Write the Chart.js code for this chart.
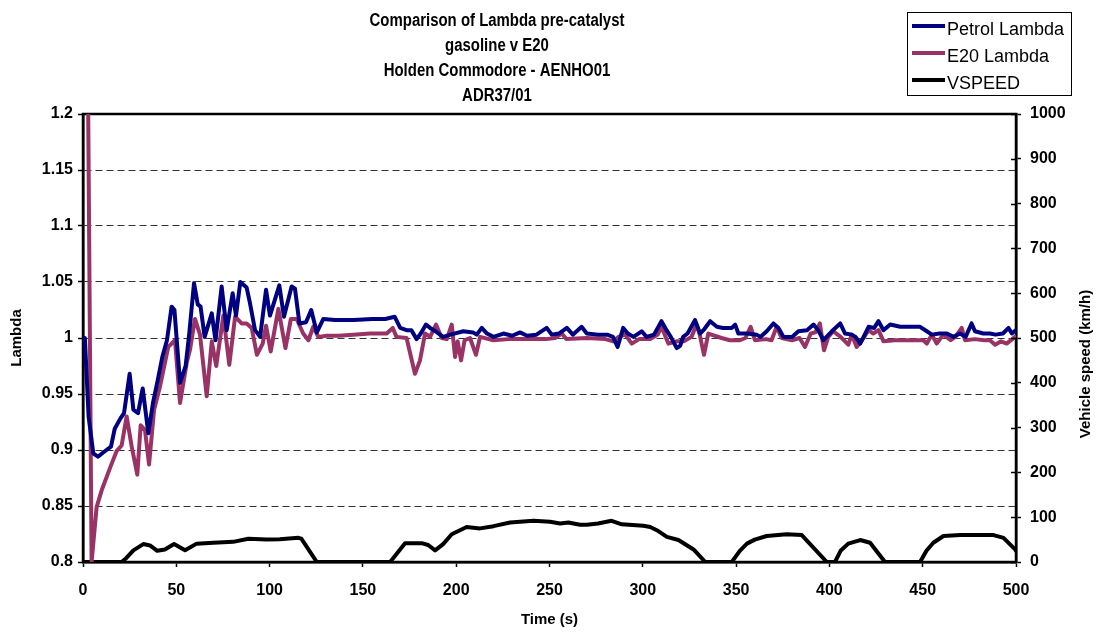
<!DOCTYPE html>
<html>
<head>
<meta charset="utf-8">
<script src="https://cdn.jsdelivr.net/npm/chart.js@4.4.1/dist/chart.umd.min.js"></script>
<style>
  html, body { margin: 0; padding: 0; background: #fff; }
  canvas { display: block; }
</style>
</head>
<body>
<canvas id="lambdaChart" width="1100" height="632"></canvas>
<script>
// title + axis text
const titleLines = [
  'Comparison of Lambda pre-catalyst',
  'gasoline v E20',
  'Holden Commodore - AENHO01',
  'ADR37/01',
];
const leftAxisTitle = 'Lambda';
const rightAxisTitle = 'Vehicle speed (km/h)';
const xAxisTitle = 'Time (s)';

// tick labels
const timeTicks = [0, 50, 100, 150, 200, 250, 300, 350, 400, 450, 500];
const lambdaTicks = [0.8, 0.85, 0.9, 0.95, 1, 1.05, 1.1, 1.15, 1.2];
const lambdaTickLabels = ['0.8', '0.85', '0.9', '0.95', '1', '1.05', '1.1', '1.15', '1.2'];
const speedTicks = [0, 100, 200, 300, 400, 500, 600, 700, 800, 900, 1000];
const speedTickLabels = ['0', '100', '200', '300', '400', '500', '600', '700', '800', '900', '1000'];

// Petrol Lambda (time s, lambda)
const petrolTime = [
  1, 3, 5.5, 8, 11, 15, 17, 20, 22, 25, 27, 29.5, 32, 35, 37.5, 40, 42.5, 45, 47.5, 49,
  52, 55, 57, 59.5, 61.5, 63, 65.2, 69, 71, 74.3, 77, 80.2, 82, 84.3, 87.7, 89.5, 92.2, 94.9, 98.1, 100.2,
  105.2, 107.7, 111.8, 113.6, 116, 119.5, 122.3, 125.3, 128.8, 135, 145, 155, 162, 167, 170, 173.4, 176, 178.8, 181, 183.8,
  186, 189, 193, 197, 203.8, 209, 211, 213.7, 216.5, 220, 225.3, 230, 234.2, 238, 243, 248.5, 251.2, 255, 259.3, 262.5,
  267.2, 270, 276, 281, 284, 286.5, 289.5, 292, 295, 299.4, 302, 306, 310, 312.7, 315, 318.2, 320, 321.6, 324, 328,
  330.7, 333, 336.1, 339.7, 343, 347.7, 349.5, 351.2, 356, 361, 363, 366.4, 370, 372.7, 375.4, 380, 383.4, 388, 391.5, 394,
  396.8, 401.3, 405.8, 408.4, 412, 414, 416.5, 419.2, 421, 424, 426.3, 429, 432.6, 438, 444, 448.6, 452.2, 454.9, 459, 463,
  466.4, 470, 473, 476.2, 478, 482.5, 486, 489, 493, 496, 497.8, 500,
];
const petrolLambda = [
  1.0, 0.93, 0.897, 0.894, 0.898, 0.903, 0.919, 0.928, 0.933, 0.968, 0.936, 0.933, 0.955, 0.915, 0.942, 0.962, 0.983, 0.998, 1.028, 1.025,
  0.96, 0.975, 1.005, 1.049, 1.03, 1.028, 1.001, 1.022, 0.998, 1.046, 1.007, 1.04, 1.02, 1.05, 1.045, 1.031, 1.007, 1.001, 1.043, 1.02,
  1.047, 1.019, 1.046, 1.044, 1.013, 1.014, 1.025, 1.005, 1.017, 1.016, 1.016, 1.017, 1.017, 1.019, 1.009, 1.007, 1.007, 0.999, 1.004, 1.012,
  1.009, 1.006, 1.001, 1.003, 1.006, 1.005, 1.003, 1.009, 1.004, 1.001, 1.004, 1.002, 1.005, 1.002, 1.003, 1.009, 1.003, 1.004, 1.009, 1.003,
  1.01, 1.004, 1.003, 1.003, 1.001, 0.992, 1.009, 1.004, 1.001, 1.006, 1.001, 1.003, 1.015, 1.007, 1.001, 0.991, 0.993, 1.001, 1.004, 1.016,
  1.004, 1.008, 1.015, 1.01, 1.009, 1.009, 1.012, 1.004, 1.004, 1.003, 1.001, 1.006, 1.013, 1.009, 1.001, 1.001, 1.006, 1.007, 1.012, 1.007,
  0.998, 1.006, 1.013, 1.004, 1.003, 1.001, 0.995, 1.004, 1.01, 1.009, 1.015, 1.007, 1.012, 1.01, 1.01, 1.01, 1.006, 1.003, 1.004, 1.004,
  1.001, 1.004, 1.001, 1.013, 1.006, 1.004, 1.004, 1.003, 1.004, 1.009, 1.004, 1.007,
];

// E20 Lambda (time s, lambda)
const e20Time = [
  1, 2.8, 4.6, 7.3, 10, 14.5, 18, 20.7, 23.4, 26.1, 29.1, 30.9, 33.2, 35.4, 38.1, 41.3, 45.7, 49.3, 52, 55.6,
  57.4, 60, 62.7, 66.3, 69, 71.4, 75.2, 78.4, 81.5, 85, 87.7, 90.4, 93.2, 96.3, 98.1, 100.6, 104.7, 108.5, 111.4, 114.5,
  118, 120.8, 123.4, 126.1, 130.6, 137, 144.8, 153.8, 162.7, 166, 168, 173.4, 175.5, 177.9, 180.6, 183.3, 186, 189.2, 192.2, 195,
  197.6, 199.4, 200.8, 202.6, 204.5, 207.4, 210.6, 212.8, 219.9, 228, 238, 248, 253, 256.6, 259, 270, 280, 284.2, 287, 290.5,
  294.1, 298, 304, 308, 310, 313.7, 318, 322, 326.1, 328.8, 330.5, 332.8, 335.1, 342.2, 346.7, 352, 355, 357.8, 360.1, 366,
  369, 371.7, 374.4, 380, 384, 386.9, 390, 392.5, 394.9, 397.1, 399.4, 402.1, 406, 410.1, 412, 414.6, 417.5, 421, 423.5, 426.3,
  429, 435, 442, 450.4, 452.2, 454.9, 457.5, 461, 465, 467.5, 470.9, 472.7, 478, 483, 486, 488.8, 492, 495, 499.5,
];
const e20Lambda = [
  1.25, 1.2, 0.8, 0.849, 0.864, 0.884, 0.899, 0.904, 0.93, 0.903, 0.878, 0.922, 0.918, 0.887, 0.936, 0.957, 0.992, 0.998, 0.942, 0.978,
  0.99, 1.017, 1.003, 0.948, 0.997, 0.975, 1.02, 0.976, 1.019, 1.013, 1.013, 1.009, 0.985, 0.995, 1.011, 0.988, 1.026, 0.991, 1.017, 1.017,
  1.004, 0.998, 1.01, 1.001, 1.002, 1.002, 1.003, 1.004, 1.004, 1.009, 1.001, 1.0, 0.985, 0.968, 0.98, 1.004, 1.001, 1.012, 1.0, 0.999,
  1.012, 0.983, 0.997, 0.98, 0.998, 1.0, 0.985, 1.001, 0.998, 0.999, 0.999, 0.999, 1.0, 1.004, 0.999, 1.0, 0.999, 0.997, 1.001, 1.003,
  0.995, 0.999, 0.999, 1.003, 1.01, 0.995, 0.997, 0.997, 1.001, 1.012, 1.003, 0.985, 1.004, 1.0, 0.998, 0.998, 1.0, 1.01, 0.998, 0.999,
  0.998, 1.01, 1.0, 0.998, 1.0, 0.992, 1.004, 1.005, 1.013, 0.989, 1.001, 1.006, 1.001, 0.994, 1.003, 0.992, 0.998, 1.007, 1.004, 1.007,
  0.997, 0.998, 0.998, 0.998, 0.995, 1.003, 0.995, 1.003, 0.998, 1.001, 1.009, 0.998, 0.999, 0.998, 0.998, 0.994, 0.997, 0.995, 1.001,
];

// VSPEED (time s, km/h)
const speedTime = [
  0, 20.7, 23, 27, 32.3, 35.9, 39.8, 43.9, 48.8, 54.7, 60.9, 69.8, 80.5, 88.6, 98.4, 105.5, 115.4, 117, 125.3, 164.6,
  172.6, 181.5, 185, 188.7, 193, 197.6, 205.6, 212.8, 220, 228.9, 241.4, 250.3, 255.7, 260.1, 266.4, 270, 276, 283.3, 288.7, 300.3,
  304, 307.5, 312.9, 319.1, 327.2, 333.5, 347.7, 352, 355.8, 360, 366.4, 377.1, 385.2, 398.6, 403, 406, 410.1, 416.5, 421.8, 429.8,
  448.6, 452, 455.7, 461.1, 470.2, 488, 493.3, 499.5, 500,
];
const speedKmh = [
  0, 0, 8, 26, 40, 37, 25, 28, 40, 26, 41, 43, 45, 52, 50, 51, 54, 52, 0, 0,
  42, 42, 38, 26, 40, 62, 78, 75, 80, 88, 92, 90, 86, 88, 83, 83, 86, 92, 84, 81,
  78, 71, 56, 49, 28, 0, 0, 25, 41, 50, 58, 62, 60, 0, 0, 25, 41, 49, 43, 0,
  0, 25, 43, 58, 60, 60, 54, 28, 25,
];

const FONT = '"Liberation Sans", Arial, Helvetica, sans-serif';
Chart.defaults.font.family = FONT;
Chart.defaults.color = '#000';

function toPoints(xs, ys) {
  return xs.map((x, i) => ({ x: x, y: ys[i] }));
}

// title, legend and right axis title drawn like the Excel original
const excelDecor = {
  id: 'excelDecor',
  beforeDatasetsDraw(chart) {
    const { ctx, chartArea: a } = chart;
    ctx.save();
    ctx.strokeStyle = '#000';
    ctx.lineWidth = 2.5;
    ctx.strokeRect(a.left, a.top, a.right - a.left, a.bottom - a.top);
    ctx.restore();
  },
  afterDraw(chart) {
    const { ctx, chartArea: a } = chart;
    ctx.save();
    ctx.fillStyle = '#000';
    ctx.textAlign = 'center';
    ctx.textBaseline = 'middle';

    // title (narrow, tall letters)
    ctx.font = 'bold 18px ' + FONT;
    titleLines.forEach((line, i) => {
      ctx.save();
      ctx.translate(497, 21 + i * 25);
      ctx.scale(0.83, 1);
      ctx.fillText(line, 0, 0);
      ctx.restore();
    });

    // right axis title reads bottom to top
    ctx.font = 'bold 15px ' + FONT;
    ctx.save();
    ctx.translate(1086, 364);
    ctx.rotate(-Math.PI / 2);
    ctx.fillText(rightAxisTitle, 0, 0);
    ctx.restore();

    // right axis ticks cross the axis
    const y2 = chart.scales.y2;
    ctx.strokeStyle = '#000';
    ctx.lineWidth = 1.5;
    y2.ticks.forEach((t) => {
      const py = Math.round(y2.getPixelForValue(t.value)) + 0.5;
      ctx.beginPath();
      ctx.moveTo(a.right - 5, py);
      ctx.lineTo(a.right, py);
      ctx.stroke();
    });

    // legend box
    ctx.lineWidth = 1;
    ctx.strokeStyle = '#000';
    ctx.strokeRect(907.5, 12.5, 164, 83);
    ctx.textAlign = 'left';
    ctx.font = '18px ' + FONT;
    chart.data.datasets.forEach((ds, i) => {
      const ty = 30 + i * 27;
      ctx.strokeStyle = ds.borderColor;
      ctx.lineWidth = 4;
      ctx.beginPath();
      ctx.moveTo(912, ty - 4);
      ctx.lineTo(945, ty - 4);
      ctx.stroke();
      ctx.fillText(ds.label, 947, ty);
    });
    ctx.restore();
  },
};

new Chart(document.getElementById('lambdaChart'), {
  type: 'line',
  data: {
    datasets: [
      {
        label: 'Petrol Lambda',
        data: toPoints(petrolTime, petrolLambda),
        borderColor: '#000080',
        borderWidth: 4,
        yAxisID: 'y',
      },
      {
        label: 'E20 Lambda',
        data: toPoints(e20Time, e20Lambda),
        borderColor: '#993366',
        borderWidth: 4,
        yAxisID: 'y',
      },
      {
        label: 'VSPEED',
        data: toPoints(speedTime, speedKmh),
        borderColor: '#000000',
        borderWidth: 4,
        yAxisID: 'y2',
      },
    ],
  },
  options: {
    responsive: false,
    animation: false,
    elements: {
      point: { radius: 0 },
      line: { tension: 0, borderJoinStyle: 'round', borderCapStyle: 'round' },
    },
    layout: { padding: { top: 114, left: 0, right: 0, bottom: 0 } },
    plugins: {
      legend: { display: false },
      title: { display: false },
      tooltip: { enabled: false },
    },
    scales: {
      x: {
        type: 'linear',
        min: 0,
        max: 500,
        afterFit: (s) => { s.height = 70; },
        afterBuildTicks: (s) => { s.ticks = timeTicks.map((v) => ({ value: v })); },
        ticks: {
          font: { size: 16, weight: 'bold' },
          padding: 14,
          maxRotation: 0,
        },
        grid: { drawOnChartArea: false, tickLength: 5, tickColor: '#000', tickWidth: 1.5 },
        border: { color: '#000', width: 2.5 },
        title: {
          display: true,
          text: xAxisTitle,
          font: { size: 15, weight: 'bold' },
          padding: { top: 0, bottom: 3 },
        },
      },
      y: {
        position: 'left',
        min: 0.8,
        max: 1.2,
        afterFit: (s) => { s.width = 83; },
        afterBuildTicks: (s) => { s.ticks = lambdaTicks.map((v) => ({ value: v })); },
        ticks: {
          font: { size: 16, weight: 'bold' },
          padding: 5,
          callback: (v, i) => lambdaTickLabels[i],
        },
        grid: {
          color: '#333',
          lineWidth: 1,
          tickLength: 5,
          tickColor: '#000',
          tickWidth: 1.5,
        },
        border: { color: '#000', width: 2.5, dash: [7, 4] },
        title: {
          display: true,
          text: leftAxisTitle,
          font: { size: 15, weight: 'bold' },
          padding: { top: 8, bottom: 0 },
        },
      },
      y2: {
        position: 'right',
        min: 0,
        max: 1000,
        afterFit: (s) => { s.width = 84; },
        afterBuildTicks: (s) => { s.ticks = speedTicks.map((v) => ({ value: v })); },
        ticks: {
          font: { size: 16, weight: 'bold' },
          padding: 9,
          callback: (v, i) => speedTickLabels[i],
        },
        grid: { drawOnChartArea: false, tickLength: 5, tickColor: '#000', tickWidth: 1.5 },
        border: { color: '#000', width: 2.5 },
      },
    },
  },
  plugins: [excelDecor],
});
</script>
</body>
</html>
